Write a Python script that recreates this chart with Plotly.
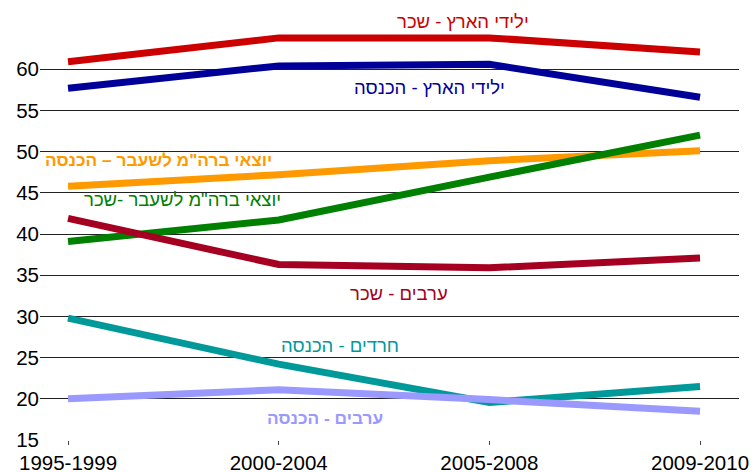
import plotly.graph_objects as go

periods = ["1995-1999", "2000-2004", "2005-2008", "2009-2010"]

native_wage = [60.9, 63.8, 63.8, 62.1]
native_income = [57.7, 60.4, 60.6, 56.6]
fsu_income = [45.8, 47.2, 48.9, 50.1]
fsu_wage = [39.1, 41.7, 46.9, 52.0]
arab_wage = [41.9, 36.3, 35.9, 37.1]
haredi_income = [29.8, 24.2, 19.55, 21.5]
arab_income = [20.0, 21.1, 19.9, 18.5]

y_ticks = [15, 20, 25, 30, 35, 40, 45, 50, 55, 60]

series = [
    ("ילידי הארץ - שכר", native_wage, "#CC0000"),
    ("ילידי הארץ - הכנסה", native_income, "#000099"),
    ("יוצאי ברה\"מ לשעבר – הכנסה", fsu_income, "#FF9900"),
    ("יוצאי ברה\"מ לשעבר -שכר", fsu_wage, "#008000"),
    ("ערבים - שכר", arab_wage, "#A50021"),
    ("חרדים - הכנסה", haredi_income, "#009999"),
    ("ערבים - הכנסה", arab_income, "#9999FF"),
]

# label anchor: (x in category units, y, yref, bold)
label_pos = [
    (1.877, 1.015, "paper", False),
    (1.716, 57.84, "y", False),
    (0.431, 48.98, "y", True),
    (0.545, 44.13, "y", False),
    (1.573, 32.84, "y", False),
    (1.289, 26.41, "y", False),
    (1.218, 17.67, "y", True),
]

fig = go.Figure()
for name, vals, color in series:
    fig.add_trace(go.Scatter(
        x=list(range(len(periods))), y=vals, mode="lines", name=name,
        line=dict(color=color, width=7), showlegend=False, hoverinfo="skip",
    ))

for (name, vals, color), (lx, ly, yr, bold) in zip(series, label_pos):
    txt = f"<b>{name}</b>" if bold else name
    fig.add_annotation(x=lx, y=ly, text=txt, showarrow=False,
                       xanchor="center", yanchor="middle",
                       font=dict(family="Liberation Sans, Arial",
                                 size=17.3 if bold else 18.5, color=color),
                       xref="x", yref=yr)

fig.update_layout(
    width=754, height=472,
    margin=dict(l=40, r=15, t=28, b=32),
    paper_bgcolor="white", plot_bgcolor="white",
    font=dict(family="Liberation Sans, Arial", size=20, color="#000"),
)
fig.update_xaxes(
    range=[-0.133, 3.185], tickvals=list(range(len(periods))), ticktext=periods,
    showgrid=False, zeroline=False, showline=False, automargin=False,
    ticks="outside", ticklen=4, tickcolor="#444", tickwidth=1,
    tickfont=dict(size=20.5),
)
fig.update_yaxes(
    range=[15, 65], tickvals=y_ticks, showgrid=True, gridcolor="#222", gridwidth=1,
    zeroline=False, showline=False, ticks="", tickfont=dict(size=20.5), automargin=False,
)

fig.write_html("out.html", config={"displayModeBar": False},
               post_script="document.body.style.margin='0';document.body.style.overflow='hidden';")
